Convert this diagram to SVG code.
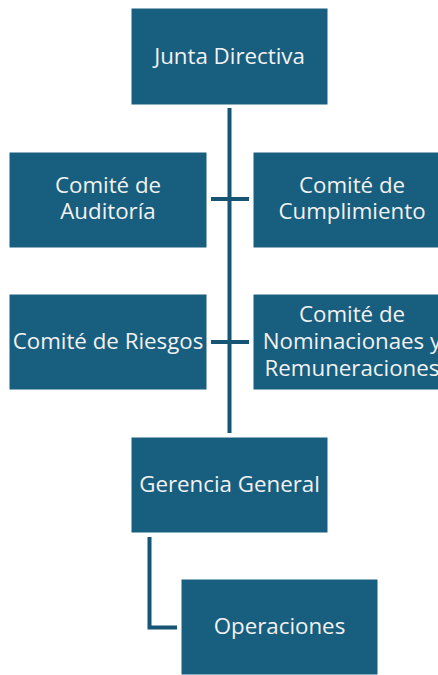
<svg xmlns="http://www.w3.org/2000/svg" width="438" height="675" viewBox="0 0 438 675">
<style>
.box{fill:#185E7F;stroke:#FFFFFF;stroke-width:1}
.t{font-family:"Open Sans","Liberation Sans",sans-serif;font-size:22.3px;fill:#F2F2F2;text-anchor:middle}
.c{stroke:#165573;stroke-width:4;fill:none}
</style>
<rect width="438" height="675" fill="#FFFFFF"/>
<g id="connectors">
<path class="c" d="M229.5,108 V433"/>
<path class="c" d="M211,199 H249"/>
<path class="c" d="M211,342 H249"/>
<path class="c" d="M149.5,537 V627.5 H177"/>
</g>
<g id="junta">
<rect class="box" x="131" y="8" width="197" height="97"/>
<text class="t" x="229.5" y="64">Junta Directiva</text>
</g>
<g id="auditoria">
<rect class="box" x="9" y="152" width="198" height="96"/>
<text class="t" x="108" y="193">Comité de</text>
<text class="t" x="108" y="219">Auditoría</text>
</g>
<g id="cumplimiento">
<rect class="box" x="253" y="152" width="198" height="96"/>
<text class="t" x="352" y="193">Comité de</text>
<text class="t" x="352" y="219">Cumplimiento</text>
</g>
<g id="riesgos">
<rect class="box" x="9" y="294" width="198" height="96"/>
<text class="t" x="108" y="349">Comité de Riesgos</text>
</g>
<g id="nominaciones">
<rect class="box" x="253" y="294" width="198" height="96"/>
<text class="t" x="352" y="322">Comité de</text>
<text class="t" x="352" y="349">Nominacionaes y</text>
<text class="t" x="352" y="376">Remuneraciones</text>
</g>
<g id="gerencia">
<rect class="box" x="131" y="437" width="197" height="96"/>
<text class="t" x="229.5" y="492">Gerencia General</text>
</g>
<g id="operaciones">
<rect class="box" x="181" y="579" width="197" height="96"/>
<text class="t" x="279.5" y="634">Operaciones</text>
</g>
</svg>
